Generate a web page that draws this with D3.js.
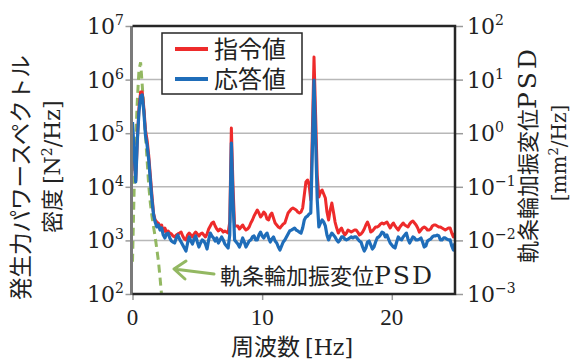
<!DOCTYPE html>
<html>
<head>
<meta charset="utf-8">
<script src="https://cdn.jsdelivr.net/npm/d3@7"></script>
<style>
  body { margin: 0; background: #fff; }
  svg { display: block; }
</style>
</head>
<body>
<svg id="chart" width="573" height="360"></svg>
<script>
// frequency step of the PSD samples [Hz]
const freqStep = 0.125;

// 指令値 (command) force PSD [N^2/Hz], one value per freqStep from 0 Hz
const redPSD = [
  1.0e5, 3.4e4, 1.3e4, 7.5e4, 3.0e5, 5.9e5, 5.9e5, 3.0e5, 1.15e5, 7.5e4,
  3.9e4, 1.66e4, 7000, 3200, 2400, 2200, 2100, 1860, 1940, 1430,
  1700, 1430, 1500, 1370, 1320, 1210, 1160, 1260, 1320, 1370,
  1430, 1210, 1060, 1020, 1260, 1370, 1260, 1160, 1320, 1430,
  1320, 1210, 1320, 1370, 1260, 1160, 1320, 1630, 1860, 2110,
  2200, 1860, 1630, 1500, 1630, 1560, 1430, 1500, 1430, 1370,
  2200, 1.25e5, 1.08e4, 1860, 1860, 1860, 1630, 1780, 1940, 1700,
  1560, 1630, 1780, 2110, 2400, 2850, 3240, 3690, 3240, 2730,
  2980, 3390, 3110, 2510, 2400, 2980, 3240, 2620, 2110, 1940,
  1780, 1700, 1860, 2020, 2110, 2620, 3240, 3540, 3850, 4020,
  3850, 3690, 3390, 3240, 3390, 4020, 7030, 1.23e4, 1.34e4, 1.08e4,
  5670, 1.15e5, 2.64e6, 2.19e5, 1.66e4, 6450, 8000, 8710, 7340, 6180,
  3390, 2400, 3690, 4990, 3390, 2200, 1700, 1370, 1560, 1700,
  1430, 1260, 1370, 1560, 1500, 1430, 1500, 1560, 1560, 1430,
  1260, 1320, 1430, 1630, 1940, 2200, 1860, 1430, 1500, 1630,
  1780, 1780, 1860, 2020, 2110, 2020, 2110, 2200, 1940, 1700,
  1940, 2110, 1860, 1700, 1560, 1780, 1940, 2110, 1940, 1860,
  1780, 2020, 2200, 2300, 2110, 1940, 1700, 1430, 1560, 1700,
  1780, 1700, 1560, 1560, 1630, 1860, 1940, 1940, 1860, 1780,
  1780, 1700, 1630, 1560, 1630, 1700, 1700, 1370, 1160, 1370
];

// 応答値 (response) force PSD [N^2/Hz]
const bluePSD = [
  1.62e5, 4.46e4, 1.23e4, 7.5e4, 2.5e5, 4.9e5, 5.2e5, 2.5e5, 9.2e4, 6.0e4,
  3.2e4, 1.34e4, 5670, 2980, 2200, 1780, 1940, 1560, 1700, 1260,
  1110, 1320, 1370, 1110, 974, 933, 894, 1110, 1260, 1060,
  933, 820, 721, 634, 894, 1160, 974, 856, 1060, 1210,
  933, 753, 894, 1020, 974, 856, 691, 1020, 1370, 1210,
  1110, 974, 1110, 894, 1020, 1160, 1020, 856, 786, 721,
  1260, 6.56e4, 5670, 1020, 933, 856, 753, 894, 1110, 933,
  753, 856, 974, 1020, 1160, 1210, 1020, 1020, 1260, 1430,
  1210, 1110, 1260, 1370, 1110, 933, 1060, 1160, 974, 894,
  753, 662, 786, 933, 1020, 1160, 1320, 1500, 1560, 1630,
  1700, 1560, 1500, 1430, 1370, 1700, 2400, 2730, 2850, 3110,
  3240, 4.86e4, 9.8e5, 7.5e4, 5670, 1780, 2110, 2400, 2200, 1860,
  1260, 1020, 1210, 1370, 1260, 1160, 1020, 933, 1020, 1160,
  1160, 1060, 1020, 1060, 1110, 1160, 1110, 1160, 1160, 1060,
  974, 933, 753, 634, 721, 933, 974, 820, 691, 753,
  933, 1110, 1160, 1260, 1430, 1370, 1160, 1260, 1060, 894,
  820, 753, 721, 933, 1160, 1060, 1020, 1160, 1260, 1370,
  1060, 894, 1020, 1160, 1110, 1020, 1020, 1060, 1110, 933,
  753, 786, 974, 1020, 1060, 1160, 1210, 1210, 1260, 1210,
  1020, 1020, 1110, 1110, 1060, 1020, 1020, 786, 662, 894
];

// 軌条輪加振変位PSD [mm^2/Hz] (right axis)
const greenFreq = [0, 0.125, 0.25, 0.375, 0.5, 0.625, 0.75, 0.875, 1.0, 1.125,
  1.25, 1.375, 1.5, 1.625, 1.75, 1.875, 2.0, 2.125, 2.25];
const greenPSD = [0.0040, 0.087, 0.75, 4.2, 15, 21, 7.9, 2.95, 0.89, 0.32,
  0.108, 0.050, 0.0285, 0.0178, 0.0116, 0.0069, 0.0041, 0.0020, 0.00092];

// tick values
const xTicks = [0, 10, 20];
const leftExp = [2, 3, 4, 5, 6, 7];
const rightExp = [-3, -2, -1, 0, 1, 2];

const legendNames = ['指令値', '応答値'];

const jp = '"Noto Sans CJK JP", sans-serif';
const serif = '"DejaVu Serif", serif';
const red = '#ee2b2b', blue = '#1f6db9', green = '#93b862';

const plot = { left: 132.5, right: 455, top: 26, bottom: 294 };

const svg = d3.select('#chart');

const x = d3.scaleLinear()
  .domain([0, (redPSD.length - 1) * freqStep])
  .range([plot.left, plot.right]);
const yL = d3.scaleLog().domain([1e2, 1e7]).range([plot.bottom, plot.top]);
const yR = d3.scaleLog().domain([1e-3, 1e2]).range([plot.bottom, plot.top]);

// horizontal grid
svg.append('g')
  .selectAll('line')
  .data(leftExp.slice(1, -1))
  .enter().append('line')
  .attr('x1', plot.left).attr('x2', plot.right)
  .attr('y1', d => yL(Math.pow(10, d))).attr('y2', d => yL(Math.pow(10, d)))
  .attr('stroke', '#b8b8b8').attr('stroke-width', 1.5);

// axes (tick marks only, labels drawn separately for the superscripts)
const leftAxis = svg.append('g')
  .attr('transform', 'translate(' + (plot.left - 1) + ',0)')
  .call(d3.axisLeft(yL).tickValues(leftExp.map(e => Math.pow(10, e))).tickSize(6).tickFormat(''));
const rightAxis = svg.append('g')
  .attr('transform', 'translate(' + (plot.right + 1) + ',0)')
  .call(d3.axisRight(yR).tickValues(rightExp.map(e => Math.pow(10, e))).tickSize(7).tickFormat(''));
const bottomAxis = svg.append('g')
  .attr('transform', 'translate(0,' + (plot.bottom + 1) + ')')
  .call(d3.axisBottom(x).tickValues(xTicks).tickSize(5).tickFormat(''));

[leftAxis, rightAxis, bottomAxis].forEach(a => {
  a.selectAll('.tick line').attr('stroke', '#9a9a9a').attr('stroke-width', 1.5);
  a.select('.domain').remove();
});

// series
svg.append('clipPath').attr('id', 'clip')
  .append('rect')
  .attr('x', plot.left).attr('y', plot.top)
  .attr('width', plot.right - plot.left).attr('height', plot.bottom - plot.top);

const series = svg.append('g').attr('clip-path', 'url(#clip)');

const lineL = d3.line().x((d, i) => x(i * freqStep)).y(d => yL(d));
const lineG = d3.line().x((d, i) => x(greenFreq[i])).y(d => yR(d));

series.append('path').datum(greenPSD)
  .attr('d', lineG).attr('fill', 'none')
  .attr('stroke', green).attr('stroke-width', 3).attr('stroke-dasharray', '8,5');
series.append('path').datum(redPSD)
  .attr('d', lineL).attr('fill', 'none')
  .attr('stroke', red).attr('stroke-width', 3).attr('stroke-linejoin', 'round');
series.append('path').datum(bluePSD)
  .attr('d', lineL).attr('fill', 'none')
  .attr('stroke', blue).attr('stroke-width', 3.2).attr('stroke-linejoin', 'round');

// frame
svg.append('line')
  .attr('x1', plot.left - 1).attr('x2', plot.left - 1)
  .attr('y1', plot.top).attr('y2', plot.bottom + 1)
  .attr('stroke', '#7a7a7a').attr('stroke-width', 3);
svg.append('path')
  .attr('d', 'M' + plot.left + ',' + plot.top + 'H' + plot.right + 'V' + plot.bottom + 'H' + plot.left)
  .attr('fill', 'none').attr('stroke', '#262626').attr('stroke-width', 2.5);

// tick labels
function powLabel(g, exp, xPos, yPos, anchor) {
  const t = g.append('text')
    .attr('x', xPos).attr('y', yPos)
    .attr('text-anchor', anchor)
    .attr('font-family', serif).attr('font-size', 22).attr('fill', '#222');
  t.append('tspan').text('10');
  t.append('tspan').attr('dy', -9).attr('font-size', 14)
    .text(exp < 0 ? '\u2212' + (-exp) : exp);
}
const labels = svg.append('g');
leftExp.forEach(e => powLabel(labels, e, 124, yL(Math.pow(10, e)) + 8, 'end'));
rightExp.forEach(e => powLabel(labels, e, 467, yR(Math.pow(10, e)) + 8, 'start'));

labels.selectAll('.xlab')
  .data(xTicks)
  .enter().append('text')
  .attr('x', d => x(d)).attr('y', 325)
  .attr('text-anchor', 'middle')
  .attr('font-family', '"Liberation Serif", serif').attr('font-size', 23).attr('fill', '#222')
  .text(d => d);

// axis titles
const xTitle = svg.append('text')
  .attr('x', 292).attr('y', 355).attr('text-anchor', 'middle')
  .attr('font-family', jp).attr('font-size', 23).attr('fill', '#222');
xTitle.append('tspan').text('周波数 ');
xTitle.append('tspan').attr('font-family', serif).attr('font-size', 22).text('[Hz]');

svg.append('text')
  .attr('transform', 'translate(28.5,300) rotate(-90)')
  .attr('font-family', jp).attr('font-size', 22.5).attr('fill', '#222')
  .text('発生力パワースペクトル');

const yTitle2 = svg.append('text')
  .attr('transform', 'translate(60,233) rotate(-90)')
  .attr('font-family', jp).attr('font-size', 22).attr('fill', '#222');
yTitle2.append('tspan').text('密度 ');
yTitle2.append('tspan').attr('font-family', serif).text('[N');
yTitle2.append('tspan').attr('font-family', serif).attr('font-size', 14).attr('dy', -8).text('2');
yTitle2.append('tspan').attr('font-family', serif).attr('dy', 8).text('/Hz]');

const rTitle1 = svg.append('text')
  .attr('transform', 'translate(536,263) rotate(-90)')
  .attr('font-family', jp).attr('font-size', 22).attr('fill', '#222');
rTitle1.append('tspan').text('軌条輪加振変位');
rTitle1.append('tspan').attr('font-family', serif).attr('font-size', 25)
  .attr('letter-spacing', 3).text('PSD');

const rTitle2 = svg.append('text')
  .attr('transform', 'translate(566,153) rotate(-90)')
  .attr('text-anchor', 'middle')
  .attr('font-family', serif).attr('font-size', 20).attr('fill', '#222');
rTitle2.append('tspan').text('[mm');
rTitle2.append('tspan').attr('font-size', 13).attr('dy', -8).text('2');
rTitle2.append('tspan').attr('dy', 8).text('/Hz]');

// legend
const legend = svg.append('g');
legend.append('rect')
  .attr('x', 162).attr('y', 33).attr('width', 140).attr('height', 61)
  .attr('fill', '#fff').attr('stroke', '#262626').attr('stroke-width', 1.5);
[red, blue].forEach((c, i) => {
  legend.append('line')
    .attr('x1', 175).attr('x2', 208)
    .attr('y1', 49 + i * 30).attr('y2', 49 + i * 30)
    .attr('stroke', c).attr('stroke-width', 4);
  legend.append('text')
    .attr('x', 214).attr('y', 58 + i * 30)
    .attr('font-family', jp).attr('font-size', 24).attr('fill', '#222')
    .text(legendNames[i]);
});

// annotation with arrow
const note = svg.append('text')
  .attr('x', 220).attr('y', 284)
  .attr('font-family', jp).attr('font-size', 22).attr('fill', '#222');
note.append('tspan').text('軌条輪加振変位');
note.append('tspan').attr('font-family', serif).attr('font-size', 25)
  .attr('letter-spacing', 2).text('PSD');

svg.append('path')
  .attr('d', 'M214,274 L174,269 M186,261 L174,269 L185,279')
  .attr('fill', 'none').attr('stroke', green).attr('stroke-width', 3)
  .attr('stroke-linecap', 'round').attr('stroke-linejoin', 'round');
</script>
</body>
</html>
